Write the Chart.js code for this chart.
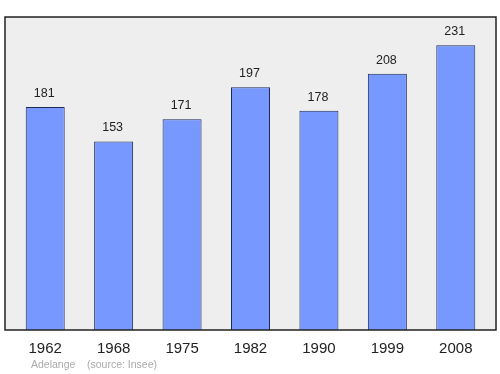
<!DOCTYPE html>
<html>
<head>
<meta charset="utf-8">
<script src="https://cdn.jsdelivr.net/npm/chart.js@4"></script>
<style>
  html, body { margin: 0; padding: 0; background: #fff; }
  #wrap { width: 500px; height: 374px; }
</style>
</head>
<body>
<div id="wrap"><canvas id="grafico"></canvas></div>
<script>
const annees = ['1962', '1968', '1975', '1982', '1990', '1999', '2008'];
const population = [181, 153, 171, 197, 178, 208, 231];
const yMax = 254;

// fond gris + cadre noir
const fondPlugin = {
    id: 'fond',
    beforeDraw(chart) {
        const c = chart.ctx, a = chart.chartArea;
        c.save();
        c.fillStyle = '#eeeeee';
        c.fillRect(a.left - 6, a.top, a.width + 12, a.bottom - a.top);
        c.restore();
    },
    afterDatasetsDraw(chart) {
        const c = chart.ctx, a = chart.chartArea;
        c.save();
        c.strokeStyle = '#222';
        c.lineWidth = 1.5;
        c.strokeRect(a.left - 6, a.top, a.width + 12, a.bottom - a.top);
        // valeurs au-dessus des barres
        c.fillStyle = '#222';
        c.font = '12.5px "Liberation Sans", Arial, sans-serif';
        c.textAlign = 'center';
        c.textBaseline = 'alphabetic';
        chart.getDatasetMeta(0).data.forEach(function(bar, i) {
            c.fillText(population[i], bar.x - 1, bar.y - 10);
        });
        // source
        c.fillStyle = '#aaaaaa';
        c.font = '10.5px "Liberation Sans", Arial, sans-serif';
        c.textAlign = 'left';
        c.fillText('Adelange', 31, 368);
        c.fillText('(source: Insee)', 87, 368);
        c.restore();
    }
};

const ctx = document.getElementById('grafico').getContext('2d');

new Chart(ctx, {
    type: 'bar',
    data: {
        labels: annees,
        datasets: [{
            data: population,
            backgroundColor: '#7799ff',
            borderColor: '#1e2a55',
            borderWidth: 1,
            borderSkipped: 'bottom',
            barPercentage: 1,
            categoryPercentage: 0.57
        }]
    },
    options: {
        responsive: true,
        maintainAspectRatio: false,
        animation: false,
        layout: { padding: { left: 11, right: 10, top: 17, bottom: 0 } },
        scales: {
            x: {
                grid: { display: false, drawTicks: false },
                border: { display: false },
                ticks: {
                    color: '#222',
                    font: { family: '"Liberation Sans", Arial, sans-serif', size: 15 },
                    padding: 10,
                    maxRotation: 0
                },
                afterFit(scale) { scale.height = 44; }
            },
            y: {
                display: false,
                min: 0,
                max: yMax
            }
        },
        plugins: {
            legend: { display: false },
            tooltip: { enabled: false }
        }
    },
    plugins: [fondPlugin]
});
</script>
</body>
</html>
